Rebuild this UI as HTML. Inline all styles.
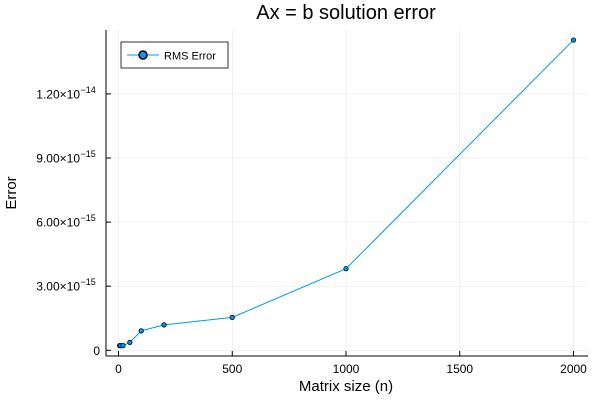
<!DOCTYPE html>
<html><head><meta charset="utf-8"><style>
body{margin:0;background:#fff;font-family:"Liberation Sans",sans-serif;}
</style></head><body>
<svg id="chart" width="600" height="400" xmlns="http://www.w3.org/2000/svg" font-family="Liberation Sans, sans-serif">
<rect width="600" height="400" fill="#fff"/>
<text x="346" y="19" font-size="20" text-anchor="middle" fill="#000">Ax = b solution error</text>
<g id="grid"></g>
<line x1="106" y1="30" x2="106" y2="356" stroke="#000" stroke-width="1"/>
<line x1="106" y1="356" x2="588" y2="356" stroke="#000" stroke-width="1"/>
<g id="ticks"></g>
<g id="series"></g>
<text x="346" y="391" font-size="15" text-anchor="middle">Matrix size (n)</text>
<text transform="translate(16,193) rotate(-90)" font-size="15" text-anchor="middle">Error</text>
<g>
<rect x="121" y="42" width="107" height="26" fill="#fff" stroke="#000" stroke-width="0.8"/>
<line x1="127" y1="55" x2="159" y2="55" stroke="#009af9" stroke-width="1"/>
<circle cx="143" cy="55" r="4" fill="#009af9" stroke="#000" stroke-width="1.5"/>
<text x="164" y="59.5" font-size="11">RMS Error</text>
</g>
</svg>
<script>
const sizes = [5, 10, 20, 50, 100, 200, 500, 1000, 2000];
const errors = [0.22e-15, 0.22e-15, 0.22e-15, 0.37e-15, 0.91e-15, 1.19e-15, 1.54e-15, 3.82e-15, 14.52e-15];
const xTicks = [0, 500, 1000, 1500, 2000];
const yTicks = [0, 3e-15, 6e-15, 9e-15, 1.2e-14];
const yTickLabels = ["0", "3.00×10", "6.00×10", "9.00×10", "1.20×10"];
const NS = "http://www.w3.org/2000/svg";
const xs = v => 118.5 + v * (573.5 - 118.5) / 2000;
const ys = v => 350.3 - v * (64.1 / 3e-15);
function mk(t, a, p) { const e = document.createElementNS(NS, t); for (const k in a) e.setAttribute(k, a[k]); p.appendChild(e); return e; }
const grid = document.getElementById('grid'), ticks = document.getElementById('ticks'), ser = document.getElementById('series');
xTicks.forEach(v => {
  const g = mk('line', {x1: xs(v), x2: xs(v), y1: 30, y2: 356, stroke: '#000', 'stroke-opacity': 0.1, 'stroke-width': 0.5}, grid);
  
  
  mk('line', {x1: xs(v), x2: xs(v), y1: 356, y2: 351, stroke: '#000'}, ticks);
  const t = mk('text', {x: xs(v), y: 373, 'font-size': 12, 'text-anchor': 'middle'}, ticks);
  t.textContent = v;
  
  
});
yTicks.forEach((v, i) => {
  const g = mk('line', {x1: 106, x2: 588, y1: ys(v), y2: ys(v), stroke: '#000', 'stroke-opacity': 0.1, 'stroke-width': 0.5}, grid);
  
  
  mk('line', {x1: 106, x2: 111, y1: ys(v), y2: ys(v), stroke: '#000'}, ticks);
  const t = mk('text', {x: i === 0 ? 100 : 80, y: ys(v) + 4.5, 'font-size': 12, 'text-anchor': 'end'}, ticks);
  t.textContent = yTickLabels[i];
  
  
  if (i > 0) {
    const s = mk('text', {x: 80.5, y: ys(v) - 1, 'font-size': 9}, ticks);
    s.textContent = "−15";
    if (i === 4) s.textContent = "−14";
    
    
  }
});
const line = mk('polyline', {points: sizes.map((n, i) => xs(n) + ',' + ys(errors[i])).join(' '), fill: 'none', stroke: '#009af9', 'stroke-width': 1}, ser);


sizes.forEach((n, i) => {
  const c = mk('circle', {cx: xs(n), cy: ys(errors[i]), r: 2.2, fill: '#009af9', stroke: '#000', 'stroke-width': 0.8}, ser);
  
  
});
</script>
</body></html>
